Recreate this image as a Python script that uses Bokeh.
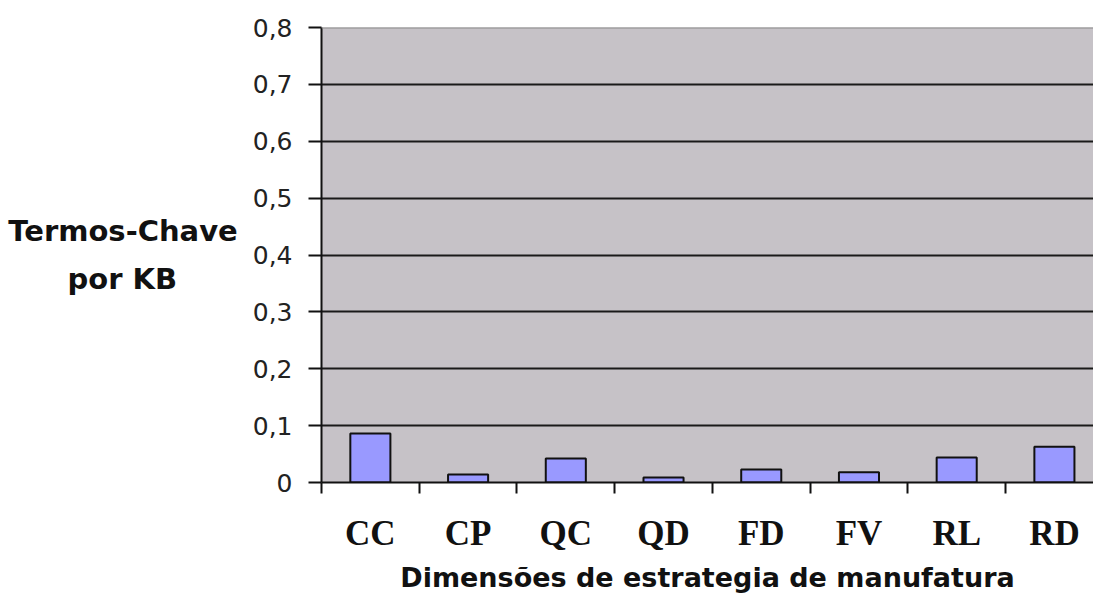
from bokeh.plotting import figure
from bokeh.models import Range1d, FixedTicker, Span
from bokeh.embed import file_html
from bokeh.resources import INLINE

categories = ["CC", "CP", "QC", "QD", "FD", "FV", "RL", "RD"]
values = [0.086, 0.014, 0.042, 0.009, 0.023, 0.018, 0.044, 0.063]
y_ticks = [0, 0.1, 0.2, 0.3, 0.4, 0.5, 0.6, 0.7, 0.8]
y_tick_labels = ["0", "0,1", "0,2", "0,3", "0,4", "0,5", "0,6", "0,7", "0,8"]
x_title = "Dimensões de estrategia de manufatura"
y_title_lines = ["Termos-Chave", "por KB"]

xs = [i + 0.5 for i in range(len(categories))]
bounds = list(range(len(categories) + 1))

p = figure(width=1093, height=595, output_backend="svg", toolbar_location=None,
           x_range=Range1d(0, 7.9), y_range=Range1d(0, 0.8),
           min_border_left=321, min_border_top=27, min_border_right=0,
           min_border_bottom=112)
p.background_fill_color = "#c6c2c7"
p.border_fill_color = "white"
p.outline_line_color = None

p.vbar(x=xs, top=values, bottom=0, width=0.41, fill_color="#9999ff",
       line_color="#111111", line_width=2)

# top border of plot area
p.add_layout(Span(location=0.8, dimension="width", line_color="#8a8a8a", line_width=2))

# grids
p.xgrid.grid_line_color = None
p.ygrid.ticker = FixedTicker(ticks=y_ticks[1:-1])
p.ygrid.grid_line_color = "#1a1a1a"
p.ygrid.grid_line_width = 2

# x axis
xa = p.xaxis[0]
xa.ticker = FixedTicker(ticks=xs, minor_ticks=bounds)
xa.major_label_overrides = {v: c for v, c in zip(xs, categories)}
xa.major_tick_line_color = None
xa.major_tick_out = 0
xa.major_tick_in = 0
xa.minor_tick_out = 11
xa.minor_tick_in = 0
xa.minor_tick_line_color = "#111111"
xa.minor_tick_line_width = 2
xa.axis_line_color = "#111111"
xa.axis_line_width = 2
xa.major_label_text_font = "Liberation Serif"
xa.major_label_text_font_style = "bold"
xa.major_label_text_font_size = "35px"
xa.major_label_text_color = "#111111"
xa.major_label_standoff = 20
xa.axis_label = x_title
xa.axis_label_text_font = "DejaVu Sans"
xa.axis_label_text_font_style = "bold"
xa.axis_label_text_font_size = "27px"
xa.axis_label_text_color = "#111111"
xa.axis_label_standoff = 6

# y axis
ya = p.yaxis[0]
ya.ticker = FixedTicker(ticks=y_ticks)
ya.major_label_overrides = {v: s for v, s in zip(y_ticks, y_tick_labels)}
ya.major_tick_out = 13
ya.major_tick_in = 0
ya.major_tick_line_color = "#111111"
ya.major_tick_line_width = 2
ya.minor_tick_line_color = None
ya.axis_line_color = "#111111"
ya.axis_line_width = 2
ya.major_label_text_font = "DejaVu Sans"
ya.major_label_text_font_size = "25px"
ya.major_label_text_color = "#222222"
ya.major_label_standoff = 16
# horizontal two-line title; second line padded so that it sits centred
ya.axis_label = y_title_lines[0] + "\n" + y_title_lines[1] + "\u00a0" * 6
ya.axis_label_orientation = "horizontal"
ya.axis_label_text_font = "DejaVu Sans"
ya.axis_label_text_font_style = "bold"
ya.axis_label_text_font_size = "29px"
ya.axis_label_text_color = "#111111"
ya.axis_label_text_line_height = 1.42
ya.axis_label_standoff = 12

open("out.html", "w").write(file_html(p, INLINE))
